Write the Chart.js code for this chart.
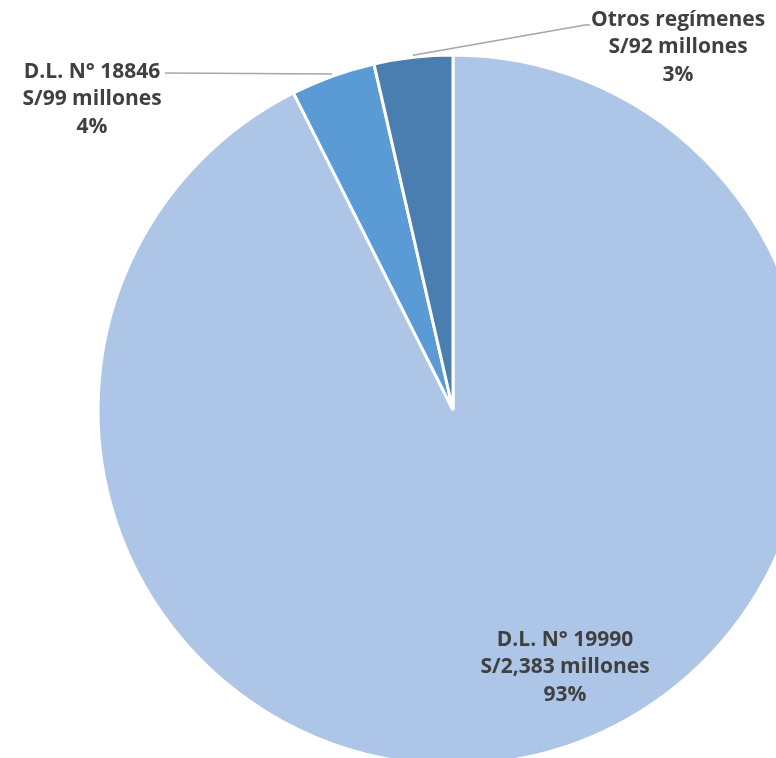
<!DOCTYPE html>
<html>
<head>
<meta charset="utf-8">
<script src="https://cdn.jsdelivr.net/npm/chart.js@4"></script>
<style>
  html, body { margin: 0; padding: 0; background: #fff; overflow: hidden; width: 776px; height: 758px; }
  #wrap { position: absolute; left: 0; top: 0; width: 906px; height: 820px; }
</style>
</head>
<body>
<div id="wrap"><canvas id="c"></canvas></div>
<script>
// data
const regimes = [ 'D.L. N° 19990', 'D.L. N° 18846', 'Otros regímenes' ];
const amounts = [ 2383, 99, 92 ];          // S/ millones
const shares  = [ '93%', '4%', '3%' ];
const colors  = [ '#adc5e6', '#5b9bd5', '#4a7db0' ];

// where each label block sits (centre x, first line y) and where its leader line ends
const labelPos = [
    { x: 565, y: 640, line: null },
    { x: 92,  y: 72,  line: [ [ 165, 73 ] ] },
    { x: 678, y: 20,  line: [ [ 585, 25 ], [ 590, 25 ] ] }
];

Chart.defaults.font.family = '"Open Sans", sans-serif';
Chart.defaults.animation = false;

const pieLabels = {
    id: 'pieLabels',
    afterDraw( chart ) {
        const ctx = chart.ctx;
        const arcs = chart.getDatasetMeta( 0 ).data;
        ctx.save();
        ctx.font = 'bold 21px "Open Sans", sans-serif';
        ctx.fillStyle = '#404040';
        ctx.textAlign = 'center';
        ctx.textBaseline = 'middle';
        arcs.forEach( ( arc, i ) => {
            const p = labelPos[ i ];
            if ( p.line ) {
                const { x, y, startAngle, endAngle, outerRadius } = arc.getProps( [ 'x', 'y', 'startAngle', 'endAngle', 'outerRadius' ] );
                const mid = ( startAngle + endAngle ) / 2;
                ctx.beginPath();
                ctx.strokeStyle = '#a6a6a6';
                ctx.lineWidth = 1.5;
                ctx.moveTo( x + Math.cos( mid ) * ( outerRadius + 2 ), y + Math.sin( mid ) * ( outerRadius + 2 ) );
                p.line.forEach( pt => ctx.lineTo( pt[ 0 ], pt[ 1 ] ) );
                ctx.stroke();
            }
            const lines = [
                regimes[ i ],
                'S/' + amounts[ i ].toLocaleString( 'en-US' ) + ' millones',
                shares[ i ]
            ];
            lines.forEach( ( t, k ) => ctx.fillText( t, p.x, p.y + k * 27.5 ) );
        } );
        ctx.restore();
    }
};

new Chart( document.getElementById( 'c' ), {
    type: 'pie',
    data: {
        labels: regimes,
        datasets: [ {
            data: amounts,
            backgroundColor: colors,
            borderColor: '#fff',
            borderWidth: 3,
            hoverOffset: 0
        } ]
    },
    options: {
        responsive: true,
        maintainAspectRatio: false,
        events: [],
        layout: { padding: { left: 96.5, right: 96.5, top: 53.5, bottom: 53.5 } },
        plugins: { legend: { display: false }, tooltip: { enabled: false } }
    },
    plugins: [ pieLabels ]
} );
</script>
</body>
</html>
